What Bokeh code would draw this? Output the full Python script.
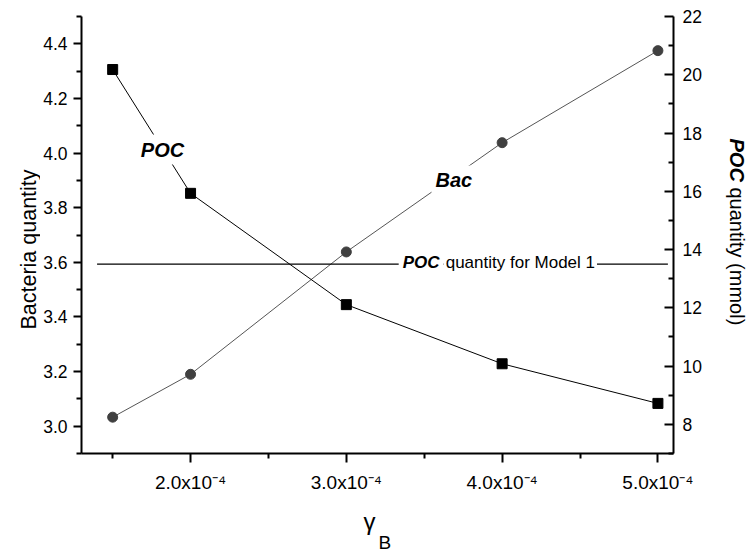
import math
from bokeh.plotting import figure
from bokeh.models import Range1d, LinearAxis, FixedTicker, Label, NumeralTickFormatter
from bokeh.layouts import row, column
from bokeh.core.properties import value
from bokeh.embed import file_html
from bokeh.resources import INLINE

# ---- data ----
gamma_b = [1.5e-4, 2.0e-4, 3.0e-4, 4.0e-4, 5.0e-4]
bacteria = [3.033, 3.19, 3.638, 4.038, 4.375]
poc = [20.18, 15.93, 12.11, 10.08, 8.72]
poc_model1 = 13.5
model1_x = [1.40e-4, 5.064e-4]

x_ticks = [2.0e-4, 3.0e-4, 4.0e-4, 5.0e-4]
x_tick_labels = ["2.0x10\u207b\u2074", "3.0x10\u207b\u2074", "4.0x10\u207b\u2074", "5.0x10\u207b\u2074"]
x_minor = [1.5e-4, 2.5e-4, 3.5e-4, 4.5e-4]
left_ticks = [3.0, 3.2, 3.4, 3.6, 3.8, 4.0, 4.2, 4.4]
left_minor = [2.9, 3.1, 3.3, 3.5, 3.7, 3.9, 4.1, 4.3, 4.5]
right_ticks = [8, 10, 12, 14, 16, 18, 20, 22]
right_minor = [7, 9, 11, 13, 15, 17, 19, 21]

FONT = "Liberation Sans"
W, H = 753, 559
LW, RW, BH = 40, 35, 60          # widths of the side text strips, height of bottom strip
MW, MH = W - LW - RW, H - BH      # main figure size
FRAME_L, FRAME_R, FRAME_T, FRAME_B = 81, 673, 16, 453   # frame edges in page pixels


def text_strip(width, height, side):
    if side:
        # side strips share the main plot's top/bottom borders (frames get aligned in a row)
        f = figure(width=width, height=height, output_backend="svg", toolbar_location=None,
                   x_range=Range1d(0, width), y_range=Range1d(MH - FRAME_B, MH - FRAME_T),
                   x_axis_location=None, y_axis_location=None, min_border=0,
                   min_border_top=FRAME_T, min_border_bottom=MH - FRAME_B)
    else:
        f = figure(width=width, height=height, output_backend="svg", toolbar_location=None,
                   x_range=Range1d(0, width), y_range=Range1d(0, height),
                   x_axis_location=None, y_axis_location=None, min_border=0)
    f.outline_line_color = None
    f.background_fill_color = "white"
    f.border_fill_color = "white"
    f.xgrid.visible = False
    f.ygrid.visible = False
    return f


def strip_text(f, text, x, y, size, style="normal", angle=0.0, align="left", baseline="middle"):
    f.text(x=[x], y=[y], text=[text], text_font=value(FONT), text_font_size=value(size),
           text_font_style=value(style), angle=angle, text_align=value(align),
           text_baseline=value(baseline), text_color="black")


# ---- main plot ----
p = figure(width=MW, height=MH, output_backend="svg", toolbar_location=None,
           x_range=Range1d(1.3e-4, 5.1e-4), y_range=Range1d(2.9, 4.5),
           min_border_left=FRAME_L - LW, min_border_right=LW + MW - FRAME_R,
           min_border_top=FRAME_T, min_border_bottom=MH - FRAME_B)
p.extra_y_ranges = {"poc": Range1d(7, 22)}
p.outline_line_color = None
p.xgrid.visible = False
p.ygrid.visible = False
p.background_fill_color = "white"
p.border_fill_color = "white"


def style_axis(ax, ticks, minor, tick_in, tick_out, minor_in, minor_out, standoff, fsize):
    ax.ticker = FixedTicker(ticks=ticks, minor_ticks=minor)
    ax.axis_line_width = 2
    ax.axis_line_color = "black"
    ax.major_tick_line_width = 2
    ax.minor_tick_line_width = 2
    ax.major_tick_in = tick_in
    ax.major_tick_out = tick_out
    ax.minor_tick_in = minor_in
    ax.minor_tick_out = minor_out
    ax.major_label_text_font = FONT
    ax.major_label_text_font_size = fsize
    ax.major_label_text_color = "black"
    ax.major_label_standoff = standoff


xa = p.xaxis[0]
style_axis(xa, x_ticks, x_minor, 0, 9, 0, 5, 9, "19px")
xa.major_label_overrides = {t: l for t, l in zip(x_ticks, x_tick_labels)}

ya = p.yaxis[0]
style_axis(ya, left_ticks, left_minor, 0, 8, 0, 5, 6, "17.5px")
ya.formatter = NumeralTickFormatter(format="0.0")

ra = LinearAxis(y_range_name="poc")
style_axis(ra, right_ticks, right_minor, 9, 0, 5, 0, 9, "17.5px")
p.add_layout(ra, "right")

# series
p.line(gamma_b, bacteria, line_color="#555555", line_width=1)
p.scatter(gamma_b, bacteria, marker="circle", size=10, fill_color="#404040", line_color="#404040")
p.line(gamma_b, poc, line_color="black", line_width=1, y_range_name="poc")
p.scatter(gamma_b, poc, marker="square", size=10, fill_color="black", line_color="black", y_range_name="poc")

# model 1 reference line
p.line(model1_x, [poc_model1, poc_model1], line_color="black", line_width=1.3, y_range_name="poc")


def lab(text, x, y, size, style="normal", align="left", baseline="middle", rng="default", pad=3):
    l = Label(x=x, y=y, text=text, text_font=FONT, text_font_size=size, text_font_style=style,
              text_align=align, text_baseline=baseline, text_color="black",
              y_range_name=rng, background_fill_color="white", padding=pad)
    p.add_layout(l)


# series labels
lab("POC", 1.82e-4, 4.013, "20px", "bold italic", align="center", pad=4)
lab("Bac", 3.69e-4, 3.90, "20px", "bold italic", align="center", pad=4)

# model 1 text
lab("POC", 3.336e-4, 13.57, "17px", "bold italic", align="left", baseline="alphabetic", rng="poc", pad=4)
lab("quantity for Model 1", 3.625e-4, 13.57, "17px", "normal", align="left", baseline="alphabetic", rng="poc", pad=2)

# ---- axis titles in side strips (y given as page pixels from top) ----
left_fig = text_strip(LW, MH, True)
strip_text(left_fig, "Bacteria quantity", 28, MH - 249, "21.5px", angle=math.pi / 2,
           align="center", baseline="alphabetic")

right_fig = text_strip(RW, MH, True)
rx = 736 - (LW + MW)
strip_text(right_fig, "POC", rx, MH - 138, "20px", "bold italic", angle=-math.pi / 2, align="left")
strip_text(right_fig, "quantity (mmol)", rx, MH - 187, "20px", angle=-math.pi / 2, align="left")

bottom_fig = text_strip(W, BH, False)
strip_text(bottom_fig, "\u03b3", 369, H - 521, "24px", align="center", baseline="alphabetic")
strip_text(bottom_fig, "B", 378, H - 542, "19px", align="left", baseline="alphabetic")

layout = column(row(left_fig, p, right_fig, spacing=0), bottom_fig, spacing=0)

open("out.html", "w").write(file_html(layout, INLINE))
